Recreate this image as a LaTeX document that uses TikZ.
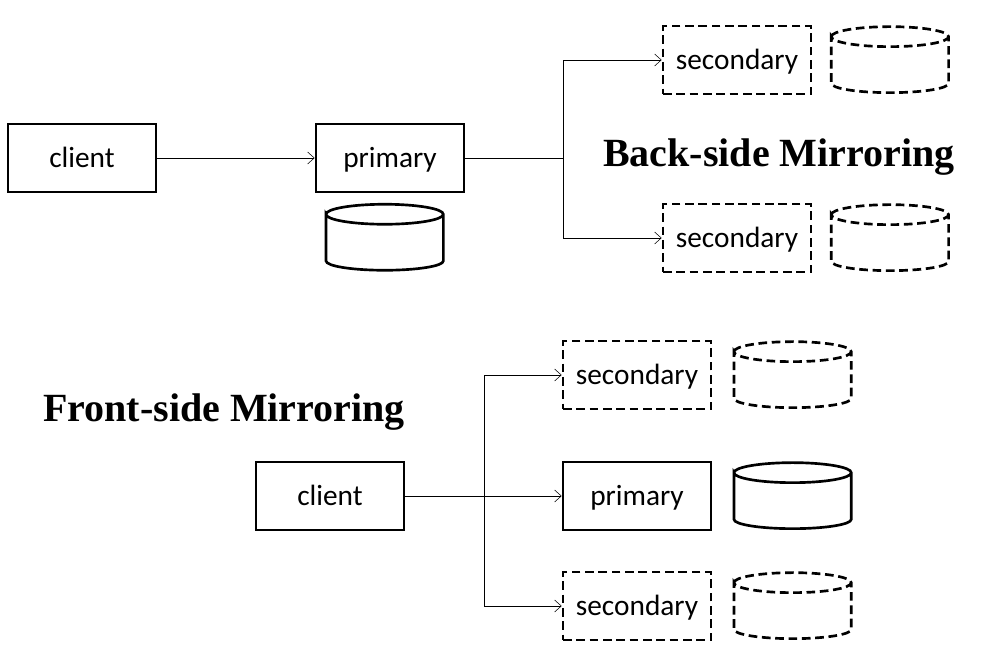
\documentclass[tikz,border=0pt]{standalone}
\usepackage{fontspec}
\setmainfont{Carlito}
\newfontfamily\titlefont{Liberation Serif}
\usetikzlibrary{arrows.meta, positioning}

\begin{document}
\begin{tikzpicture}[x=0.75pt, y=0.75pt, >={Straight Barb[length=5pt, width=9pt]},
		server/.style={draw, line width=2pt, minimum width=111pt, minimum height=51pt, inner sep=0pt, text height=18pt, text depth=4pt, font=\fontsize{22}{26}\selectfont},
		mirror/.style={server, dash pattern=on 6.5pt off 3.5pt},
		disk/.style={minimum width=90pt, minimum height=52pt, inner sep=0pt,
			path picture={\draw[line width=2pt, #1] (path picture bounding box.center) ++(-44pt,17.5pt)
				arc[start angle=180, end angle=-180, x radius=44pt, y radius=7.5pt] -- ++(0,-35pt)
				arc[start angle=180, end angle=360, x radius=44pt, y radius=7pt] -- ++(0,35pt);}},
		disk/.default=solid,
		mirrordisk/.style={disk={dash pattern=on 6.5pt off 3.5pt}},
		title/.style={font=\titlefont\bfseries\fontsize{30}{36}\selectfont}]
		\useasboundingbox (0,0) rectangle (992,652);

		% back-side mirroring
		\node[server] (client) at (82,494) {client};
		\node[server] (primary) at (390,494) {primary};
		\node[disk] [below=7pt of primary, xshift=-4pt] (pdisk) {};
		\node[mirror] (sec1) at (737,592) {secondary};
		\node[mirrordisk] [right=13pt of sec1] (sdisk1) {};
		\node[mirror] (sec2) at (737,414) {secondary};
		\node[mirrordisk] [right=13pt of sec2] (sdisk2) {};
		\node[title] (backtitle) at (779,495) {Back-side Mirroring};

		\coordinate (split) at (563,494);
		\draw[->] (client) -- (primary);
		\draw (primary.east) -- (split);
		\draw[->] (split) |- (sec1);
		\draw[->] (split) |- (sec2);

		% front-side mirroring
		\node[title] (fronttitle) at (224,240) {Front-side Mirroring};
		\node[server] (fclient) at (330,156) {client};
		\node[mirror] (fsec1) at (637,277) {secondary};
		\node[mirrordisk] [right=15pt of fsec1] (fdisk1) {};
		\node[server] (fprimary) at (637,156) {primary};
		\node[disk] [right=15pt of fprimary] (fdisk2) {};
		\node[mirror] (fsec2) at (637,46) {secondary};
		\node[mirrordisk] [right=15pt of fsec2] (fdisk3) {};

		\coordinate (fsplit) at (484,156);
		\draw[->] (fclient) -- (fprimary);
		\draw[->] (fsplit) |- (fsec1);
		\draw[->] (fsplit) |- (fsec2);
	\end{tikzpicture}
\end{document}
